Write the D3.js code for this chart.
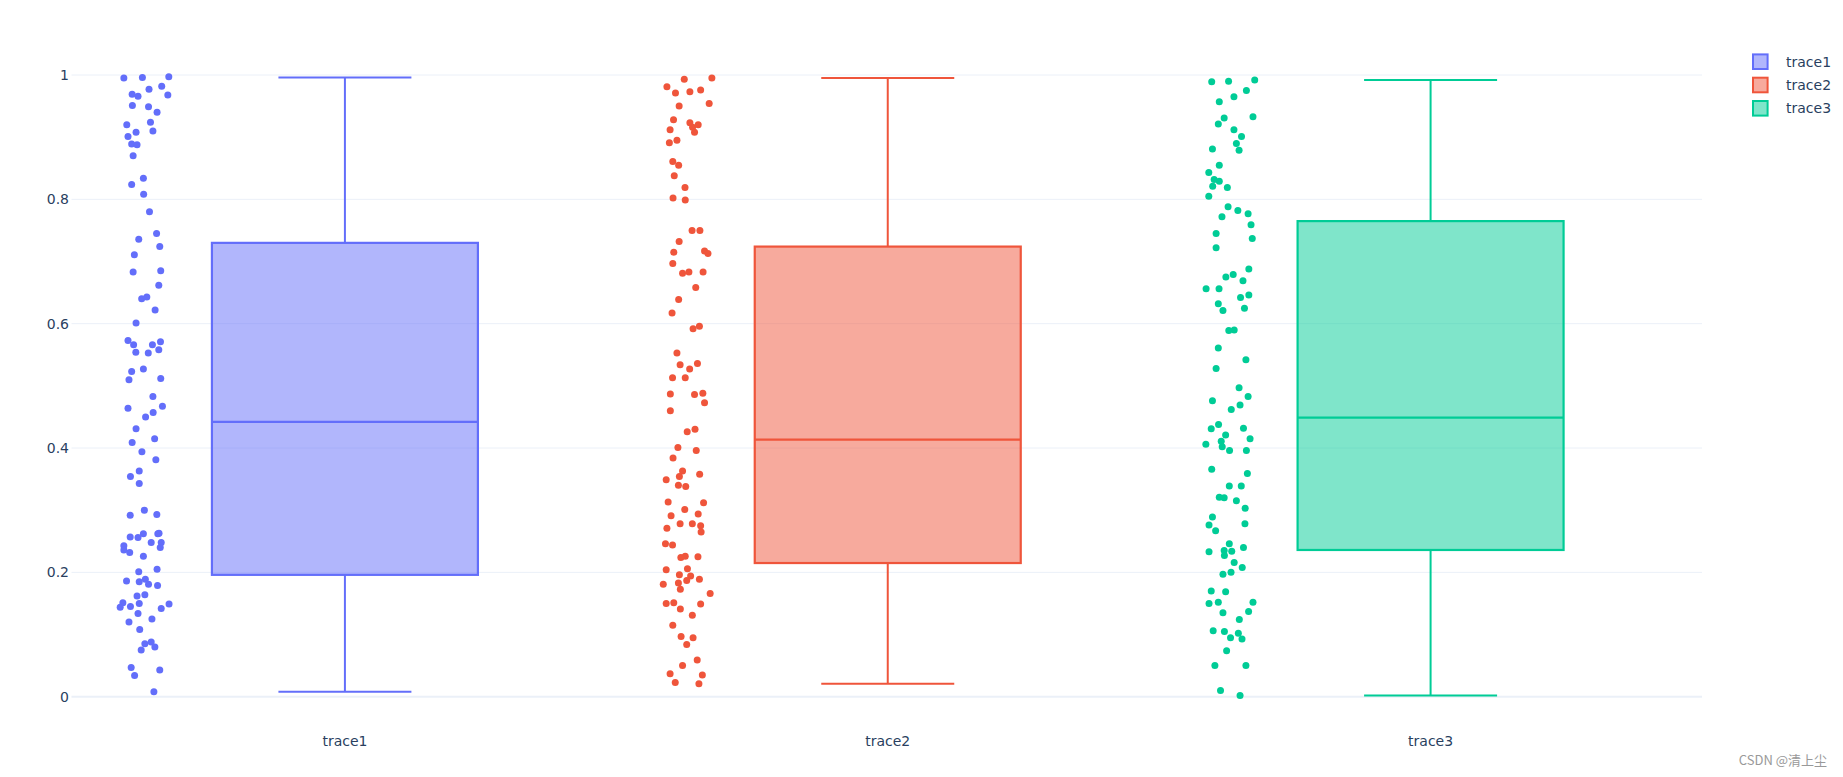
<!DOCTYPE html>
<html><head><meta charset="utf-8">
<script src="https://cdn.jsdelivr.net/npm/d3@7"></script>
<style>
html,body{margin:0;padding:0;background:#fff;}
svg{display:block;}
</style></head>
<body>
<svg id="chart" width="1843" height="777"></svg>
<script>
const categories = ["trace1", "trace2", "trace3"];
const colors = ["#636efa", "#EF553B", "#00cc96"];
const yTicks = [0, 0.2, 0.4, 0.6, 0.8, 1];

// box statistics: lower fence, q1, median, q3, upper fence
const lowerFence = [0.008, 0.021, 0.002];
const q1 = [0.196, 0.215, 0.236];
const median = [0.442, 0.4135, 0.449];
const q3 = [0.730, 0.724, 0.765];
const upperFence = [0.996, 0.995, 0.992];

// trace1 points (values) and horizontal jitter (-1..1)
const trace1Values = [0.995,0.996,0.997,0.982,0.977,0.969,0.966,0.968,0.951,0.949,0.940,0.924,0.920,0.908,0.910,0.901,0.889,0.888,0.870,0.834,0.824,0.808,0.780,0.745,0.736,0.724,0.711,0.683,0.685,0.662,0.640,0.643,0.622,0.601,0.573,0.566,0.566,0.571,0.554,0.553,0.558,0.523,0.527,0.510,0.512,0.483,0.464,0.467,0.457,0.450,0.431,0.409,0.415,0.394,0.381,0.354,0.363,0.343,0.292,0.300,0.293,0.257,0.256,0.262,0.262,0.263,0.243,0.236,0.232,0.248,0.248,0.240,0.226,0.201,0.205,0.186,0.185,0.189,0.181,0.179,0.162,0.164,0.150,0.151,0.144,0.145,0.149,0.142,0.134,0.125,0.120,0.108,0.085,0.088,0.080,0.075,0.047,0.034,0.043,0.008];
const trace1Jitter = [-0.85,-0.09,0.99,0.70,0.18,-0.51,-0.27,0.95,-0.50,0.16,0.51,0.24,-0.73,-0.35,0.34,-0.68,-0.53,-0.31,-0.47,-0.05,-0.53,-0.04,0.20,0.49,-0.24,0.62,-0.42,-0.47,0.66,0.58,-0.12,0.09,0.43,-0.35,-0.68,-0.45,0.32,0.65,-0.36,0.15,0.58,-0.53,-0.05,-0.64,0.66,0.34,-0.68,0.73,0.35,0.04,-0.35,-0.51,0.41,-0.11,0.46,-0.58,-0.22,-0.22,-0.59,-0.01,0.50,-0.59,-0.27,-0.05,0.54,0.59,-0.85,-0.85,-0.61,0.27,0.68,0.64,-0.05,-0.24,0.51,-0.74,-0.22,0.03,0.16,0.53,-0.31,0.01,-0.22,-0.89,-1.00,-0.58,1.00,0.68,-0.27,0.30,-0.64,-0.20,0.01,0.27,0.42,-0.14,-0.55,-0.41,0.62,0.38];

const trace2Values = [0.993,0.995,0.981,0.971,0.973,0.976,0.954,0.950,0.928,0.923,0.916,0.920,0.908,0.912,0.895,0.891,0.861,0.855,0.838,0.819,0.802,0.799,0.750,0.750,0.732,0.715,0.717,0.713,0.697,0.681,0.683,0.683,0.658,0.639,0.617,0.592,0.596,0.553,0.534,0.536,0.527,0.513,0.513,0.487,0.486,0.488,0.473,0.460,0.426,0.430,0.401,0.396,0.384,0.363,0.354,0.358,0.349,0.340,0.338,0.313,0.312,0.301,0.294,0.291,0.271,0.278,0.278,0.275,0.265,0.246,0.244,0.224,0.226,0.225,0.204,0.206,0.196,0.194,0.181,0.183,0.187,0.189,0.173,0.166,0.150,0.151,0.141,0.149,0.131,0.115,0.097,0.095,0.084,0.059,0.050,0.037,0.035,0.023,0.021];
const trace2Jitter = [-0.13,1.00,-0.84,-0.49,0.10,0.54,0.89,-0.34,-0.57,0.10,0.21,0.44,0.29,-0.71,-0.43,-0.74,-0.60,-0.36,-0.54,-0.10,-0.59,-0.09,0.19,0.51,-0.34,-0.56,0.70,0.84,-0.60,-0.20,0.06,0.64,0.34,-0.36,-0.63,0.23,0.49,-0.43,-0.30,0.41,0.09,-0.61,-0.09,-0.70,0.29,0.63,0.70,-0.70,-0.01,0.31,-0.39,0.36,-0.59,-0.20,-0.33,0.50,-0.87,-0.37,-0.07,-0.79,0.66,-0.11,0.44,-0.67,-0.84,-0.30,0.20,0.54,0.56,-0.90,-0.61,-0.27,-0.09,0.43,-0.87,0.00,-0.33,0.13,-0.99,-0.37,-0.03,0.49,-0.29,0.93,-0.87,-0.56,-0.29,0.54,0.20,-0.60,-0.26,0.23,-0.03,0.40,-0.20,-0.71,0.61,-0.50,0.47];

const trace3Values = [0.989,0.990,0.992,0.975,0.957,0.965,0.931,0.933,0.921,0.912,0.901,0.890,0.881,0.879,0.855,0.843,0.832,0.829,0.821,0.819,0.805,0.788,0.782,0.772,0.777,0.759,0.745,0.737,0.722,0.688,0.675,0.679,0.669,0.656,0.656,0.642,0.646,0.632,0.621,0.625,0.589,0.590,0.561,0.542,0.528,0.497,0.483,0.476,0.469,0.462,0.431,0.438,0.432,0.421,0.415,0.406,0.411,0.402,0.396,0.396,0.366,0.359,0.339,0.339,0.321,0.320,0.315,0.303,0.289,0.276,0.278,0.267,0.246,0.233,0.235,0.234,0.240,0.227,0.216,0.208,0.197,0.200,0.170,0.169,0.150,0.152,0.152,0.135,0.137,0.124,0.106,0.105,0.102,0.095,0.093,0.074,0.050,0.050,0.010,0.002];
const trace3Jitter = [-0.76,-0.07,1.00,0.66,-0.45,0.15,-0.25,0.93,-0.49,0.15,0.46,0.25,-0.73,0.36,-0.45,-0.88,-0.66,-0.45,-0.72,-0.12,-0.88,-0.09,0.31,-0.34,0.73,0.85,-0.58,0.90,-0.58,0.76,-0.18,0.12,0.52,-0.99,-0.46,0.42,0.76,-0.49,-0.30,0.58,-0.06,0.16,-0.49,0.64,-0.58,0.36,0.73,-0.73,0.40,0.04,-0.78,-0.48,0.54,-0.19,0.81,-1.00,-0.37,-0.33,-0.03,0.66,-0.76,0.70,-0.04,0.45,-0.45,-0.25,0.25,0.61,-0.73,-0.87,0.60,-0.60,-0.04,-0.87,-0.25,0.06,0.54,-0.24,0.16,0.49,-0.30,0.03,-0.78,-0.19,-0.87,-0.49,0.93,-0.30,0.75,0.37,-0.70,-0.24,0.33,0.01,0.48,-0.15,-0.63,0.64,-0.40,0.40];

const pointValues = [trace1Values, trace2Values, trace3Values];
const pointJitter = [trace1Jitter, trace2Jitter, trace3Jitter];

const svg = d3.select("#chart");
const font = "'DejaVu Sans', Verdana, sans-serif";
const textColor = "#2a3f5f";
const gridColor = "#EBF0F8";

const plotLeft = 73.5, plotRight = 1702, plotTop = 75, plotBottom = 696.7;

const x = d3.scaleBand().domain(categories).range([plotLeft, plotRight]).padding(0);
const y = d3.scaleLinear().domain([0, 1]).range([plotBottom, plotTop]);

// grid lines
const grid = svg.append("g");
grid.selectAll("line").data(yTicks).join("line")
  .attr("x1", plotLeft - 2).attr("x2", plotRight)
  .attr("y1", d => y(d)).attr("y2", d => y(d))
  .attr("stroke", gridColor)
  .attr("stroke-width", d => d === 0 ? 2 : 1);

// y axis labels
const yAxis = d3.axisLeft(y).tickValues(yTicks).tickSize(0).tickPadding(0)
  .tickFormat(d => d === 0 ? "0" : d === 1 ? "1" : d3.format(".1f")(d));
const yg = svg.append("g").attr("transform", `translate(${plotLeft - 4.5},0)`).call(yAxis);
yg.select(".domain").remove();
yg.selectAll("text").attr("font-family", font).attr("font-size", 14).attr("fill", textColor);

// x axis labels
const xAxis = d3.axisBottom(x).tickSize(0).tickPadding(0);
const xg = svg.append("g").attr("transform", `translate(0,${plotBottom + 39.5})`).call(xAxis);
xg.select(".domain").remove();
xg.selectAll("text").attr("font-family", font).attr("font-size", 14).attr("fill", textColor).attr("dy", "0.71em");

const bw = x.bandwidth();
const boxWidth = bw * 0.49;
const capWidth = boxWidth / 2;
const pointOffset = -bw * 0.369;
const jitterHalf = bw * 0.045;

categories.forEach((cat, i) => {
  const cx = x(cat) + bw / 2;
  const g = svg.append("g");
  const c = colors[i];
  // whiskers
  g.append("line").attr("x1", cx).attr("x2", cx).attr("y1", y(upperFence[i])).attr("y2", y(q3[i]))
    .attr("stroke", c).attr("stroke-width", 2);
  g.append("line").attr("x1", cx).attr("x2", cx).attr("y1", y(q1[i])).attr("y2", y(lowerFence[i]))
    .attr("stroke", c).attr("stroke-width", 2);
  g.append("line").attr("x1", cx - capWidth / 2).attr("x2", cx + capWidth / 2)
    .attr("y1", y(upperFence[i])).attr("y2", y(upperFence[i])).attr("stroke", c).attr("stroke-width", 2);
  g.append("line").attr("x1", cx - capWidth / 2).attr("x2", cx + capWidth / 2)
    .attr("y1", y(lowerFence[i])).attr("y2", y(lowerFence[i])).attr("stroke", c).attr("stroke-width", 2);
  // box
  g.append("rect").attr("x", cx - boxWidth / 2).attr("width", boxWidth)
    .attr("y", y(q3[i])).attr("height", y(q1[i]) - y(q3[i]))
    .attr("fill", c).attr("fill-opacity", 0.5).attr("stroke", c).attr("stroke-width", 2.2);
  g.append("line").attr("x1", cx - boxWidth / 2).attr("x2", cx + boxWidth / 2)
    .attr("y1", y(median[i])).attr("y2", y(median[i])).attr("stroke", c).attr("stroke-width", 2.2);
  // points
  const pts = pointValues[i].map((v, k) => ({v, j: pointJitter[i][k]}));
  g.append("g").selectAll("circle").data(pts).join("circle")
    .attr("cx", d => cx + pointOffset + d.j * jitterHalf)
    .attr("cy", d => y(d.v))
    .attr("r", 3.5)
    .attr("fill", c);
});

// legend
const legend = svg.append("g").attr("transform", "translate(1752,61.7)");
categories.forEach((cat, i) => {
  const row = legend.append("g").attr("transform", `translate(0,${i * 23.3})`);
  row.append("rect").attr("x", 1).attr("y", -7.3).attr("width", 14.6).attr("height", 14.6)
    .attr("fill", colors[i]).attr("fill-opacity", 0.5).attr("stroke", colors[i]).attr("stroke-width", 2);
  row.append("text").attr("x", 34).attr("y", 0).attr("dy", "0.35em")
    .attr("font-family", font).attr("font-size", 14).attr("fill", textColor).text(cat);
});

// watermark
svg.append("text").attr("x", 1827).attr("y", 760).attr("dy", "0.35em").attr("text-anchor", "end")
  .attr("font-family", "'Noto Sans CJK SC', 'DejaVu Sans', sans-serif").attr("font-size", 13)
  .attr("fill", "#999").text("CSDN @清上尘");
</script>
</body></html>
